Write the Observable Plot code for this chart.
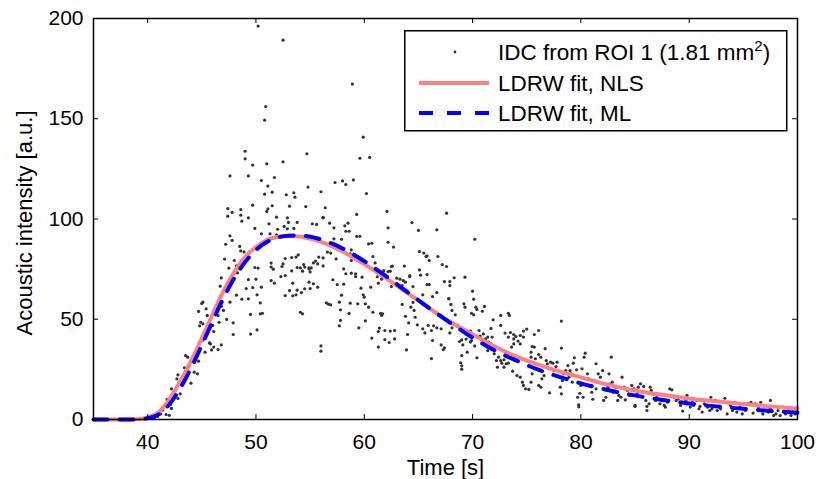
<!DOCTYPE html>
<html><head><meta charset="utf-8">
<script src="https://cdn.jsdelivr.net/npm/d3@7"></script>
<script src="https://cdn.jsdelivr.net/npm/@observablehq/plot@0.6"></script>
<style>
body{margin:0;background:#fff;font-family:"Liberation Sans",Arial,Helvetica,sans-serif;}
#wrap{position:relative;width:817px;height:479px;}
#legend{position:absolute;left:404px;top:30px;}
</style></head>
<body><div id="wrap"></div>
<script>
// Tick values
const xTicks = [40, 50, 60, 70, 80, 90, 100];
const yTicks = [0, 50, 100, 150, 200];

// Fitted curves
const fitTime = [35,36,37,38,39,40,41,42,43,44,45,46,47,48,49,50,51,52,53,54,55,56,57,58,60,62,64,66,68,70,72,74,76,78,80,82,84,86,88,90,92,94,96,98,100];
const nlsFit = [0,0,0,0,0.1,1,3.5,10,19,29,40.5,52.5,64,73.5,81,86,89.5,91,91.5,91.3,90.3,88.6,86.5,83.8,77.5,70.5,63,55.5,48.5,42.5,36.5,31.5,27.5,24,21,18,15.5,13.5,12,10.5,9.3,8.2,7.2,6.3,5.5];
const mlFit = [0,0,0,0,0.05,0.6,2.5,7.5,15.5,25.5,37,49,60.5,70.5,78.5,84.5,88.5,90.8,91.7,91.8,91.2,89.8,87.8,85.3,79,71.5,63.5,55.5,48,40.8,34.5,29.5,25,21.3,18,15.3,13,11,9.4,8,6.8,5.8,4.9,4.1,3.4];

// IDC samples [time s, intensity a.u.]
const idcPoints = [
[50.2,196.2],[52.5,189.2],[58.9,167.3],[50.9,156.1],[50.8,149.3],[59.9,140.8],[49.0,133.8],[49.0,130],[49.7,126.9],[51.0,127.5],[52.5,128.5],[54.7,132.5],[59.6,130.3],[60.5,130.7],[47.6,121.5],[49.3,121.5],[50.5,119.2],[51.7,120.7],[51.1,116.4],[50.8,112.4],[51.5,113.4],[52.8,112.1],[53.5,113.1],[53.6,110.9],[54.8,115.9],[56.0,113.6],[57.3,118.2],[58.0,119.0],[58.3,117.2],[59.0,119.5],[60.2,112.7],[59.3,102.3],[62.1,103.8],[67.6,102.9],[47.4,105.2],[47.4,101.4],[47.8,103.3],[48.6,104.7],[48.6,101.9],[49.3,100.6],[49.7,106.9],[51.0,103.8],[51.1,105.1],[51.5,106.6],[51.9,100.9],[52.9,100.6],[53.1,106.4],[54.6,106.2],[56.2,100.8],[56.4,105.6],
[48.7,98.9],[53.0,98.3],[53.8,98.3],[51.2,97.6],[52.6,96.3],[49.9,95.3],[53.5,95.3],[47.6,91.6],[47.8,89.3],[47.2,87.4],[48.5,86.3],[48.6,84.1],[48.9,83.6],[50.5,92.6],[51.3,92.6],[51.9,92.1],[52.0,94.9],[52.9,95.1],[47.1,80.0],[48.0,79.3],[47.5,75.5],[48.2,76.6],[49.9,75.8],[50.2,75.5],[51.4,78.0],[51.6,75.0],[52.5,77.6],[52.4,76.3],[53.3,80.8],[53.9,82.1],[54.9,75.1],[53.8,75.8],[54.4,77.3],[54.5,76.0],[55.0,73.6],[52.7,71.8],[52.3,71.3],[51.4,69.3],[51.7,68.0],[53.3,74.1],[46.8,70.6],[46.7,66.5],[48.3,73.1],[49.3,69.8],[50.0,70.0],[49.1,65.3],[49.7,65.8],[50.5,66.0],[48.2,62.0],[48.7,60.0],[49.3,60.2],[50.1,62.2],[47.6,58.5],[45.1,58.5],[45.0,57.9],[46.8,56.5],[44.7,53.9],[45.4,55.2],[45.5,51.9],[47.0,54.4],[46.5,51.9],[46.6,48.5],[47.3,49.9],[47.9,48.2],[50.4,58.2],[49.5,52.4],[50.4,52.7],[50.6,53.0],[44.9,48.5],[44.8,46.7],[45.1,47.7],[46.0,46.9],[46.1,43.9],[50.1,44.7],[49.5,42.6],[47.9,42.4],[45.1,39.6],[45.7,38.2],[45.8,37.7],[46.1,36.1],[45.9,34.7],[46.5,34.9],[46.8,37.2],[45.3,33.6],[43.5,31.9],[43.7,31.1],[43.4,25.8],[43.8,26.4],[44.3,23.6],[44.6,22.8],[44.3,28.6],[44.7,29.1],[43.6,24.4],[42.8,22.3],[42.7,20.3],[42.9,18.6],[43.3,20.8],[44.0,18.1],[43.1,18.1],[42.2,15.3],[42.6,14.8],[43.0,12.8],[42.3,10.8],[41.8,10.0],[42.8,10.5],[41.7,7.8],[42.1,7.5],[42.2,5.5],[41.7,2.5],[42.0,2.1],[41.2,2.8],[41.4,4.7],[40.6,0.8],[40.9,1.5],[54.1,53.5],[54.3,52.7],[52.7,61.8],[53.1,64.3],[53.4,61.7],[53.7,62.2],[54.2,63.3],[54.5,65.2],[54.3,74.0],[53.7,81.0],[54.1,75.6],[52.7,80.3],[51.4,76.0],[53.4,68.0],[53.8,64.5],
[64.4,98.2],[65.0,94.3],[66.7,94.6],[70.2,89.9],[55.2,97.6],[55.6,97.3],[56.2,100.6],[56.8,97.9],[57.2,95.6],[58.5,97.9],[58.2,96.6],[58.3,93.9],[58.6,93.9],[62.2,95.6],[59.3,91.3],[59.6,91.4],[57.2,90.1],[57.9,89.9],[60.4,87.6],[60.7,87.9],[62.2,88.4],[62.7,86.0],[55.8,81.0],[55.5,79.0],[55.3,78.1],[55.7,77.6],[54.9,75.6],[55.1,75.6],[56.2,76.6],[56.2,80.6],[56.6,83.5],[56.9,83.0],[57.4,80.1],[58.1,75.1],[58.8,84.6],[58.7,82.6],[58.8,79.3],[59.4,79.3],[59.2,72.7],[58.8,73.0],[59.2,71.3],[59.8,71.0],[58.3,72.7],[60.8,81.3],[61.0,78.1],[62.5,76.3],[62.6,76.5],[63.7,76.5],[61.8,74.3],[62.2,73.8],[62.4,74.0],[63.3,70.0],[63.0,70.5],[63.6,69.3],[63.8,68.5],[63.5,66.8],[63.4,65.7],[64.2,71.8],[64.2,71.2],[61.2,71.2],[61.6,70.0],[62.0,70.7],[61.3,68.0],[62.5,66.3],[60.6,66.0],[59.7,65.5],[65.1,74.6],[65.2,72.0],[65.8,72.3],[65.7,81.3],[65.8,81.6],[66.0,79.3],[65.5,83.0],[65.1,83.8],[66.8,81.3],[67.2,77.3],[67.6,76.3],[64.5,66.3],[65.8,67.3],[66.0,67.3],[65.4,62.2],[66.3,61.3],[66.7,63.3],[67.4,68.8],[67.9,68.8],[67.9,66.8],[68.3,70.7],[69.3,71.0],[67.8,60.2],[54.9,68.5],[55.0,65.3],[55.3,67.7],[55.7,66.0],[57.1,69.7],[57.5,67.3],[58.1,67.5],[57.9,62.0],[58.7,58.0],[59.4,57.7],[57.7,58.5],[57.8,54.7],[58.6,52.9],[56.5,58.2],[56.7,57.5],[56.9,57.2],[59.9,62.2],[60.0,61.0],[60.1,57.7],[60.4,56.0],[60.8,53.5],[61.5,53.0],[61.7,52.7],[61.6,51.9],[60.1,49.2],[59.5,45.7],[57.8,49.4],[57.7,46.7],[61.4,45.6],[61.3,43.9],[61.9,44.4],[62.4,44.1],[62.8,44.4],[62.8,40.2],[60.7,40.6],[61.3,36.1],[61.9,39.9],[62.3,38.4],[63.5,57.4],[63.8,51.5],[64.0,42.4],[63.9,34.7],[64.5,58.4],[64.6,54.4],[64.3,56.0],[64.7,51.0],[64.1,48.2],[64.9,47.2],[65.4,45.2],[65.6,43.2],[65.9,46.9],[66.2,44.4],[66.4,46.7],[66.7,45.7],[67.1,45.2],[66.3,39.4],[67.1,37.2],[67.3,34.9],[67.4,35.7],[66.2,30.4],[67.9,43.2],[68.1,45.7],[68.6,46.9],[68.8,38.9],[69.0,39.7],[69.4,40.1],[69.8,38.6],[69.1,37.2],[69.0,31.9],[68.9,28.3],[69.0,26.8],[69.0,25.1],[69.5,33.6],[69.9,53.0],[70.3,56.0],[69.2,57.7],[69.3,56.0],[68.4,52.2],[68.1,54.4],[68.0,57.4],[67.8,60.3],[56.0,36.7],[56.0,34.1],
[70.0,64.0],[70.1,60.0],[70.4,54.9],[70.9,54.0],[71.1,56.4],[70.1,52.2],[69.8,44.1],[69.9,39.4],[70.2,36.7],[70.4,30.8],[70.6,44.4],[70.7,41.6],[71.0,42.7],[71.2,40.2],[71.4,41.1],[71.7,45.4],[71.9,49.7],[71.8,41.1],[71.5,38.6],[71.7,37.7],[71.4,34.4],[72.0,36.1],[72.0,32.8],[72.2,29.4],[72.4,31.1],[72.6,29.4],[72.7,28.1],[72.3,26.1],[72.9,29.8],[72.9,26.1],[73.1,27.8],[72.6,46.9],[72.6,51.9],[73.3,53.0],[73.4,51.9],[73.0,43.1],[73.3,41.1],[73.5,43.4],[73.8,40.2],[73.8,42.4],[74.0,41.4],[74.2,39.1],[74.4,37.7],[74.4,41.9],[74.7,41.1],[74.7,44.1],[75.0,45.1],[73.8,37.7],[73.6,36.1],[74.0,31.4],[73.5,31.1],[73.3,28.1],[73.7,24.1],[74.1,21.9],[74.4,21.1],[74.6,18.6],[74.7,17.0],[74.9,15.3],[75.2,15.0],[75.4,18.6],[75.5,22.8],[75.7,25.3],[75.8,27.8],[75.4,31.1],[75.4,33.6],[75.5,36.4],[75.7,36.1],[75.7,42.4],[76.1,44.4],[76.1,32.4],[75.8,30.3],[76.3,31.1],[76.1,17.0],[76.3,16.1],[76.4,20.3],[76.6,21.9],[76.7,35.3],[76.8,29.4],[76.9,27.8],[77.1,13.3],[77.2,28.6],[77.4,28.1],[77.5,24.4],[77.7,26.4],[77.8,28.6],[77.9,21.6],[78.1,16.1],[78.2,12.8],[78.3,19.5],[78.2,35.6],[78.2,49.1],[78.4,22.8],[78.6,24.4],[78.8,26.9],[78.9,21.1],[79.0,24.4],[79.1,22.8],[79.2,18.6],[79.3,28.1],[79.4,30.8],[79.6,24.8],[79.7,11.1],[79.8,7.3],[79.8,6.3],[79.9,13.1],[80.0,17.0],[80.1,25.3],[80.3,31.1],[80.4,33.1],[80.6,22.8],[80.7,20.3],[80.9,17.0],[81.0,13.6],[81.1,10.1],[81.2,19.5],[81.4,15.3],[81.4,27.8],[81.6,22.8],[81.8,21.1],[82.0,24.4],[82.1,9.5],[82.3,11.1],[82.4,14.5],[82.5,16.1],[82.6,22.8],[82.7,17.8],[82.8,31.1],[82.9,18.6],[83.0,13.6],[83.2,16.1],[83.4,9.5],[83.5,12.0],[83.7,11.1],[83.8,21.1],[84.0,16.1],[84.1,9.8],[84.3,14.5],[84.5,12.0],[84.7,17.0],[84.9,15.3],[85.0,7.0],[85.2,12.8],[85.3,16.1],[80.2,11.1],
[84.7,12.0],[85.0,6.5],[85.5,17.8],[85.8,16.5],[86.0,9.5],[86.1,6.5],[86.1,4.5],[86.3,7.8],[86.5,14.5],[86.7,12.8],[86.9,9.5],[87.0,11.1],[87.3,7.8],[87.5,9.5],[87.7,7.0],[87.8,6.2],[88.0,8.6],[88.2,15.3],[88.4,14.8],[88.6,11.1],[88.8,9.5],[89.0,10.3],[89.2,7.0],[89.4,4.2],[89.7,9.5],[89.8,7.8],[90.1,6.2],[90.3,8.6],[90.4,7.0],[90.7,9.5],[90.9,5.3],[91.0,6.5],[91.2,3.7],[91.4,7.8],[91.7,6.2],[91.9,4.5],[92.1,5.3],[92.4,9.5],[92.6,4.5],[92.9,5.3],[93.3,10.6],[93.5,2.8],[93.8,7.0],[94.0,4.5],[94.2,8.6],[94.4,3.7],[94.7,6.2],[94.9,2.8],[95.2,4.5],[95.4,7.8],[95.7,8.6],[95.9,3.2],[96.1,7.8],[96.4,6.2],[96.6,8.6],[96.8,2.8],[97.0,4.5],[97.3,3.7],[97.5,5.3],[97.8,2.0],[98.0,2.8],[98.2,4.5],[98.4,2.0],[98.7,6.2],[98.9,2.8],[99.1,4.2],[99.4,2.0],[99.6,5.3],[99.8,2.8],[99.9,3.7],[92.0,11.1],[89.8,12.0],[86.4,16.1],[97.5,9.5]
];

// Labels
const xLabel = "Time [s]";
const yLabel = "Acoustic intensity [a.u.]";
const seriesNames = ["IDC from ROI 1 (1.81 mm", "LDRW fit, NLS", "LDRW fit, ML"];

const fitRows = fitTime.map((t, i) => ({t, nls: nlsFit[i], ml: mlFit[i]}));
const FONT = '"Liberation Sans", Arial, Helvetica, sans-serif';

const chart = Plot.plot({
  width: 817, height: 479,
  marginLeft: 93, marginRight: 20, marginTop: 18, marginBottom: 60,
  style: {fontFamily: FONT, fontSize: "21px", color: "#000", background: "#fff"},
  x: {domain: [35, 100]},
  y: {domain: [0, 200]},
  marks: [
    Plot.dot(idcPoints, {x: d => d[0], y: d => d[1], r: 1.6, fill: "#333", stroke: null}),
    Plot.line(fitRows, {x: "t", y: "nls", stroke: "#FF8080", strokeWidth: 4, curve: "monotone-x"}),
    Plot.line(fitRows, {x: "t", y: "ml", stroke: "#0000FF", strokeWidth: 4, strokeDasharray: "14,12", curve: "monotone-x"}),
    Plot.ruleX(xTicks, {x: d => d, insetTop: 396, stroke: "#000", strokeWidth: 1}),
    Plot.ruleX(xTicks, {x: d => d, insetBottom: 396, stroke: "#000", strokeWidth: 1}),
    Plot.ruleY(yTicks, {y: d => d, insetRight: 699, stroke: "#000", strokeWidth: 1}),
    Plot.ruleY(yTicks, {y: d => d, insetLeft: 699, stroke: "#000", strokeWidth: 1}),
    Plot.frame({stroke: "#000", strokeWidth: 1.5}),
    Plot.axisX({ticks: xTicks, tickSize: 0, tickPadding: 15, label: null, fontSize: 21}),
    Plot.axisY({ticks: yTicks, tickSize: 0, tickPadding: 10, label: null, fontSize: 21}),
    Plot.text([xLabel], {frameAnchor: "bottom", textAnchor: "middle", lineAnchor: "middle", dy: 48, fontSize: 22, fill: "#000"}),
    Plot.text([yLabel], {frameAnchor: "left", textAnchor: "middle", lineAnchor: "middle", dx: -69, dy: 4, rotate: -90, fontSize: 22, fill: "#000"})
  ]
});
const wrap = document.getElementById("wrap");
wrap.appendChild(chart);

// Legend (inside the axes, top right)
const lg = d3.select(wrap).append("svg").attr("id", "legend")
  .attr("width", 385).attr("height", 103)
  .style("font-family", FONT);
lg.append("rect").attr("x", 0.75).attr("y", 0.75).attr("width", 382).attr("height", 100)
  .attr("fill", "#fff").attr("stroke", "#000").attr("stroke-width", 1.5);
lg.append("circle").attr("cx", 51).attr("cy", 22).attr("r", 1.4).attr("fill", "#333");
lg.append("line").attr("x1", 15).attr("x2", 85).attr("y1", 53).attr("y2", 53)
  .attr("stroke", "#FF8080").attr("stroke-width", 4);
lg.append("line").attr("x1", 15).attr("x2", 85).attr("y1", 83).attr("y2", 83)
  .attr("stroke", "#0000FF").attr("stroke-width", 4).attr("stroke-dasharray", "14,14");
const rowsY = [22, 53, 83];
seriesNames.forEach((s, i) => {
  const t = lg.append("text").attr("x", 94).attr("y", rowsY[i] + 8).attr("font-size", 22.5).attr("fill", "#000");
  t.append("tspan").text(s);
  if (i === 0) {
    t.append("tspan").attr("dy", -9).attr("font-size", 15).text("2");
    t.append("tspan").attr("dy", 9).text(")");
  }
});
</script>
</body></html>
